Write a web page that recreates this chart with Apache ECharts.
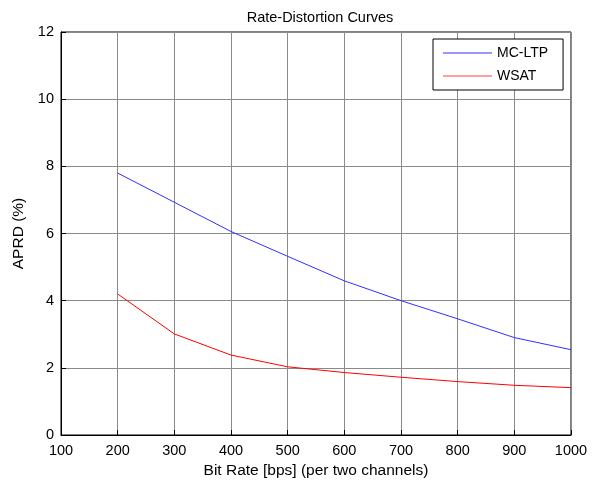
<!DOCTYPE html>
<html>
<head>
<meta charset="utf-8">
<script src="https://cdn.jsdelivr.net/npm/echarts@6/dist/echarts.min.js"></script>
<style>
  html, body { margin: 0; padding: 0; background: #fff; }
  #chart { width: 592px; height: 480px; }
</style>
</head>
<body>
<div id="chart"></div>
<script>
// Bit rates (bps, per two channels)
const bitRates = [200, 300, 400, 500, 600, 700, 800, 900, 1000];
// APRD (%) for each coder
const mcLtp = [7.80, 6.93, 6.06, 5.32, 4.59, 4.00, 3.46, 2.90, 2.54];
const wsat = [4.20, 3.01, 2.38, 2.03, 1.86, 1.72, 1.59, 1.48, 1.41];
const seriesNames = ['MC-LTP', 'WSAT'];

const font = 'Liberation Sans, Arial, sans-serif';
const chart = echarts.init(document.getElementById('chart'), null, { renderer: 'canvas' });

function pairs(ys) { return bitRates.map((x, i) => [x, ys[i]]); }

chart.setOption({
  animation: false,
  backgroundColor: '#fff',
  title: {
    text: 'Rate-Distortion Curves',
    left: 315, top: 5, textAlign: 'center',
    textStyle: { fontFamily: font, fontSize: 14.5, fontWeight: 'normal', color: '#000' }
  },
  grid: {
    left: 61, right: 21, top: 32, bottom: 45,
    outerBoundsMode: 'none',
    show: true, borderColor: '#000', borderWidth: 1, backgroundColor: '#fff'
  },
  legend: {
    orient: 'vertical',
    left: 433, top: 39,
    padding: [7, 15, 7, 10],
    itemGap: 9,
    itemWidth: 49, itemHeight: 1,
    icon: 'rect',
    backgroundColor: '#fff',
    borderColor: '#000', borderWidth: 1,
    textStyle: { fontFamily: font, fontSize: 14, color: '#000' },
    data: seriesNames
  },
  xAxis: {
    type: 'value', min: 100, max: 1000, interval: 100,
    name: 'Bit Rate [bps] (per two channels)',
    nameLocation: 'middle', nameGap: 26,
    nameTextStyle: { fontFamily: font, fontSize: 15.5, color: '#000' },
    axisLine: { show: true, lineStyle: { color: '#000' } },
    axisTick: { show: true, inside: true, length: 5, lineStyle: { color: '#000' } },
    axisLabel: { fontFamily: font, fontSize: 14.5, color: '#000', margin: 8, formatter: v => String(v) },
    splitLine: { show: true, lineStyle: { color: '#8a8a8a', width: 1 } }
  },
  yAxis: {
    type: 'value', min: 0, max: 12, interval: 2,
    name: 'APRD (%)',
    nameLocation: 'middle', nameGap: 33, nameRotate: 90,
    nameTextStyle: { fontFamily: font, fontSize: 15.5, color: '#000' },
    axisLine: { show: true, lineStyle: { color: '#000' } },
    axisTick: { show: true, inside: true, length: 5, lineStyle: { color: '#000' } },
    axisLabel: { fontFamily: font, fontSize: 14.5, color: '#000', margin: 7 },
    splitLine: { show: true, lineStyle: { color: '#8a8a8a', width: 1 } }
  },
  series: [
    {
      name: seriesNames[0], type: 'line', data: pairs(mcLtp),
      showSymbol: false, symbol: 'none',
      lineStyle: { color: '#3030ff', width: 1 }, itemStyle: { color: '#3030ff' }
    },
    {
      name: seriesNames[1], type: 'line', data: pairs(wsat),
      showSymbol: false, symbol: 'none',
      lineStyle: { color: '#ff0000', width: 1 }, itemStyle: { color: '#ff4040' }
    }
  ]
});
</script>
</body>
</html>
